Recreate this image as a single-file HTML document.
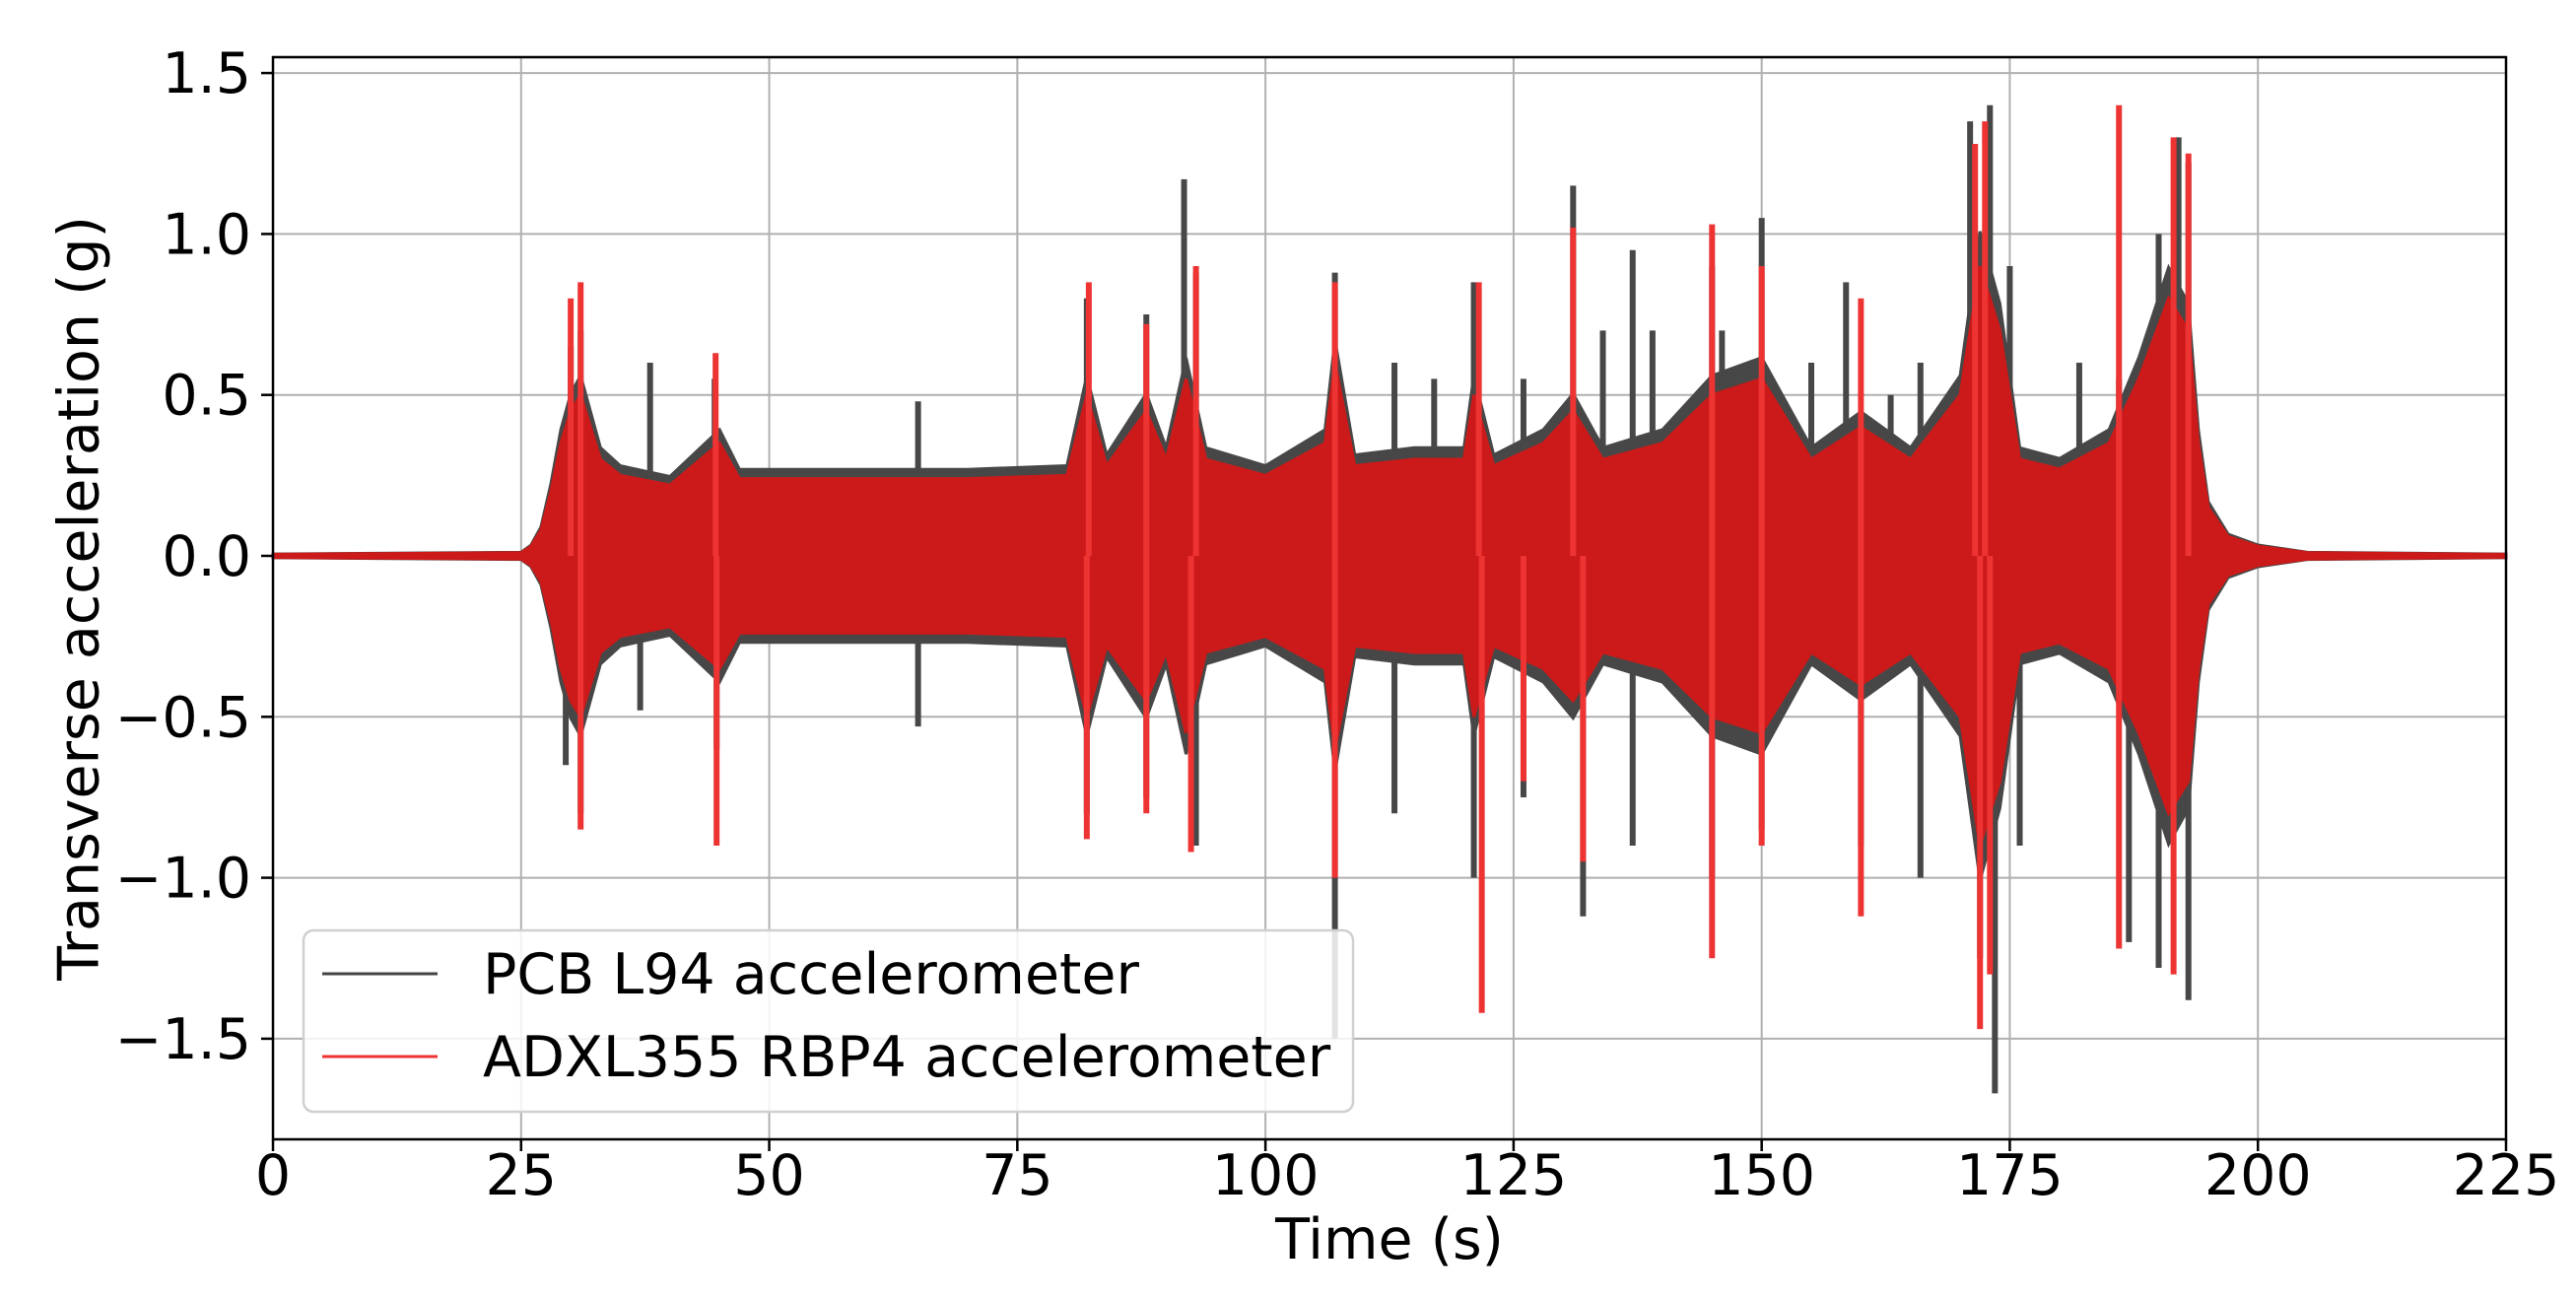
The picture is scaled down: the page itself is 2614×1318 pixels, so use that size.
<!DOCTYPE html>
<html><head><meta charset="utf-8"><style>
html,body{margin:0;padding:0;background:#fff;}
svg{display:block;font-family:"DejaVu Sans","Liberation Sans",sans-serif;}
</style></head><body>
<svg id="chart" width="2614" height="1318" viewBox="0 0 2614 1318">
<rect width="2614" height="1318" fill="#fff"/>
<g id="grid"></g>
<g id="series"></g>
<rect x="277" y="58" width="2266" height="1098" fill="none" stroke="#000" stroke-width="2.5"/>
<g id="ticks"></g>
<text x="84" y="607" font-size="57" text-anchor="middle" transform="rotate(-90 84 607)" dominant-baseline="middle">Transverse acceleration (g)</text>
<text x="1410" y="1277" font-size="57" text-anchor="middle">Time (s)</text>
<g>
<rect x="308" y="944" width="1065" height="184" rx="10" fill="#fff" fill-opacity="0.85" stroke="#d0d0d0" stroke-width="2.5"/>
<line x1="327" y1="988" x2="444" y2="988" stroke="#444" stroke-width="3"/>
<text x="490" y="1008" font-size="57">PCB L94 accelerometer</text>
<line x1="327" y1="1072" x2="444" y2="1072" stroke="#ee3333" stroke-width="3"/>
<text x="490" y="1092" font-size="57">ADXL355 RBP4 accelerometer</text>
</g>
</svg>
<script>
const xTicks=[0,25,50,75,100,125,150,175,200,225];
const yTicks=[1.5,1.0,0.5,0.0,-0.5,-1.0,-1.5];
const envT=[0,25,26,27,28,29,30,31,33,35,40,45,47,60,70,80,82,84,88,90,92,94,100,106,107,109,115,120,121,123,128,131,134,140,145,150,155,160,165,170,172,174,176,180,185,188,191,193,194,195,197,200,205,225];
const envA=[0.005,0.01,0.03,0.08,0.2,0.35,0.45,0.5,0.3,0.25,0.22,0.35,0.24,0.24,0.24,0.25,0.5,0.28,0.45,0.3,0.55,0.3,0.25,0.35,0.6,0.28,0.3,0.3,0.5,0.28,0.35,0.45,0.3,0.35,0.5,0.55,0.3,0.4,0.3,0.5,0.9,0.7,0.3,0.27,0.35,0.55,0.8,0.7,0.35,0.15,0.06,0.03,0.01,0.005];
const pcbHiT=[30,31,38,44.5,65,82,88,91.8,93,107,113,117,121,126,131,134,137,139,145,146,150,155,158.5,163,166,171,173,175,182,186,190,192,193];
const pcbHi=[0.65,0.7,0.6,0.55,0.48,0.8,0.75,1.17,0.88,0.88,0.6,0.55,0.85,0.55,1.15,0.7,0.95,0.7,0.9,0.7,1.05,0.6,0.85,0.5,0.6,1.35,1.4,0.9,0.6,0.55,1.0,1.3,1.22];
const pcbLoT=[29.5,31,37,44.7,65,82,88,93,107,113,121,126,132,137,145,150,160,166,172,173.5,176,187,190,193];
const pcbLo=[-0.65,-0.8,-0.48,-0.6,-0.53,-0.8,-0.75,-0.9,-1.5,-0.8,-1.0,-0.75,-1.12,-0.9,-1.0,-0.85,-0.9,-1.0,-1.25,-1.67,-0.9,-1.2,-1.28,-1.38];
const adxlHiT=[30,31,44.6,82.2,88,93,107,121.5,131,145,150,160,171.5,172.5,186,191.5,193];
const adxlHi=[0.8,0.85,0.63,0.85,0.72,0.9,0.85,0.85,1.02,1.03,0.9,0.8,1.28,1.35,1.4,1.3,1.25];
const adxlLoT=[31,44.7,82,88,92.5,107,121.8,126,132,145,150,160,172,173,186,191.5];
const adxlLo=[-0.85,-0.9,-0.88,-0.8,-0.92,-1.0,-1.42,-0.7,-0.95,-1.25,-0.9,-1.12,-1.47,-1.3,-1.22,-1.3];

const NS="http://www.w3.org/2000/svg";
const X=t=>277+t*(2266/225);
const Y=v=>564-v*(163.3/0.5);
function mk(tag,attrs,parent){const e=document.createElementNS(NS,tag);for(const k in attrs)e.setAttribute(k,attrs[k]);parent.appendChild(e);return e;}
const grid=document.getElementById('grid'),ticks=document.getElementById('ticks'),ser=document.getElementById('series');
xTicks.forEach(t=>{
  const g=mk('line',{x1:X(t),x2:X(t),y1:58,y2:1156,stroke:'#b0b0b0','stroke-width':2},grid);
  
  
  const tk=mk('line',{x1:X(t),x2:X(t),y1:1156,y2:1168,stroke:'#000','stroke-width':2.5},ticks);
  
  
  const tx=mk('text',{x:X(t),y:1212,'font-size':57,'text-anchor':'middle'},ticks);
  tx.textContent=String(t);
  
  
});
yTicks.forEach(v=>{
  const g=mk('line',{x1:277,x2:2543,y1:Y(v),y2:Y(v),stroke:'#b0b0b0','stroke-width':2},grid);
  
  
  const tk=mk('line',{x1:265,x2:277,y1:Y(v),y2:Y(v),stroke:'#000','stroke-width':2.5},ticks);
  
  
  const tx=mk('text',{x:255,y:Y(v)+20,'font-size':57,'text-anchor':'end'},ticks);
  tx.textContent=(v<0?'\u2212':'')+Math.abs(v).toFixed(1);
  
  
});
function band(scale,color,name){
  let d='M'+envT.map((t,i)=>X(t)+','+Y(envA[i]*scale)).join(' L');
  d+=' L'+envT.slice().reverse().map((t,i)=>X(t)+','+Y(-envA[envT.length-1-i]*scale)).join(' L')+' Z';
  const p=mk('path',{d:d,fill:color,stroke:color,'stroke-width':3},ser);
  
  
}
function spikes(T,V,color,name){
  T.forEach((t,i)=>{
    const l=mk('line',{x1:X(t),x2:X(t),y1:Y(0),y2:Y(V[i]),stroke:color,'stroke-width':6},ser);
    
    
  });
}
band(1.12,'#474747','pcb-envelope');
spikes(pcbHiT,pcbHi,'#474747','pcb-spike');
spikes(pcbLoT,pcbLo,'#474747','pcb-spike');
band(1.0,'#cc1a1a','adxl-envelope');
spikes(adxlHiT,adxlHi,'#ee3333','adxl-spike');
spikes(adxlLoT,adxlLo,'#ee3333','adxl-spike');
</script>
</body></html>
